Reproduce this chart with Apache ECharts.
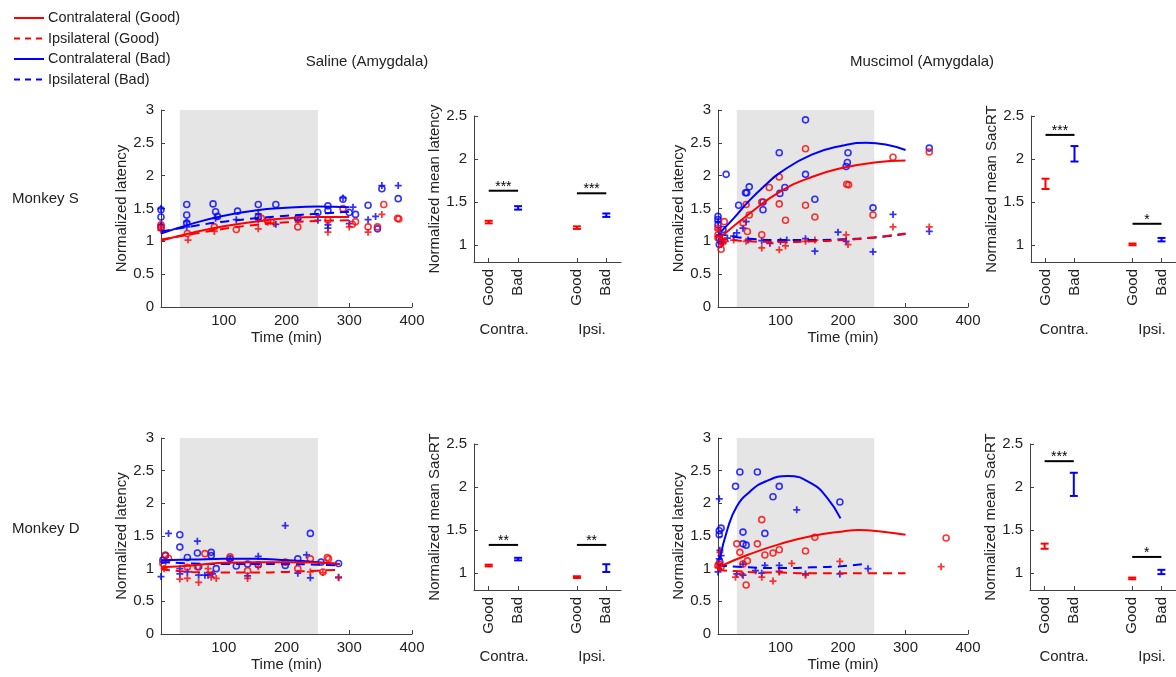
<!DOCTYPE html>
<html>
<head>
<meta charset="UTF-8" />
<title>Amygdala latency</title>
<script src="https://cdn.jsdelivr.net/npm/echarts@6/dist/echarts.min.js"></script>
<style>
  html, body { margin: 0; padding: 0; background: #fff; }
  #chart { width: 1176px; height: 677px; }
</style>
</head>
<body>
<div id="chart"></div>
<script>
// ---- data ----
var shadeRange = [30, 250];
var timeTicks = [100, 200, 300, 400];
var barPos = [1, 2, 4, 5];
var barNames = ["Good", "Bad", "Good", "Bad"];
var barColors = ["#ff0000", "#0000ff", "#ff0000", "#0000ff"];
var sacTicks = [1, 1.5, 2, 2.5];

// Saline, monkey S
var salS_cg_pts = [[0,1.25],[0,1.2],[42,1.12],[85,1.22],[120,1.18],[160,1.35],[170,1.32],[218,1.22],[266,1.32],[290,1.5],[305,1.26],[310,1.3],[330,1.22],[345,1.22],[355,1.56],[377,1.35],[379,1.34]];
var salS_ig_pts = [[0,1.17],[43,1.02],[85,1.15],[155,1.19],[170,1.29],[180,1.27],[266,1.14],[300,1.22],[330,1.14],[352,1.41]];
var salS_cb_pts = [[0,1.48],[0,1.37],[0,1.22],[41,1.56],[41,1.4],[41,1.28],[83,1.57],[87,1.45],[90,1.38],[122,1.46],[155,1.56],[155,1.37],[183,1.56],[218,1.35],[250,1.44],[266,1.54],[266,1.47],[290,1.64],[300,1.44],[310,1.41],[330,1.55],[345,1.19],[352,1.8],[378,1.65]];
var salS_ib_pts = [[0,1.5],[0,1.25],[41,1.22],[41,1.3],[87,1.35],[120,1.33],[155,1.42],[155,1.33],[183,1.26],[218,1.33],[250,1.32],[266,1.2],[266,1.25],[290,1.66],[306,1.52],[300,1.27],[330,1.33],[342,1.38],[352,1.85],[378,1.85]];
var salS_cg_fit = [[0,1.01],[50,1.13],[100,1.23],[150,1.3],[200,1.35],[250,1.37],[300,1.37]];
var salS_ig_fit = [[0,1.03],[50,1.11],[100,1.19],[150,1.25],[200,1.29],[250,1.31],[300,1.32]];
var salS_cb_fit = [[0,1.12],[50,1.27],[100,1.39],[150,1.47],[200,1.51],[250,1.53],[300,1.52]];
var salS_ib_fit = [[0,1.15],[50,1.23],[100,1.3],[150,1.35],[200,1.39],[250,1.42],[300,1.45]];
var salS_mean = [1.265, 1.43, 1.2, 1.345];
var salS_err = [0.015, 0.02, 0.015, 0.02];
var salS_sig = [[1, 2, 1.63, "***"], [4, 5, 1.6, "***"]];

// Muscimol, monkey S
var musS_cg_pts = [[0,1.2],[0,1.1],[0,1.05],[5,0.88],[10,1.3],[40,1.28],[45,1.56],[47,1.15],[50,1.4],[70,1.6],[70,1.1],[82,1.82],[98,1.98],[98,1.57],[108,1.32],[140,2.41],[140,1.55],[155,1.37],[206,1.87],[209,1.86],[248,1.4],[280,2.28],[338,2.36]];
var musS_ig_pts = [[0,1.18],[3,1.08],[5,0.95],[8,0.98],[12,1.0],[25,1.02],[45,1.0],[70,0.9],[83,0.98],[98,0.87],[108,0.93],[140,1.0],[155,1.02],[205,1.1],[208,0.95],[280,1.22],[338,1.22]];
var musS_cb_pts = [[0,1.38],[0,1.33],[0,1.25],[2,1.05],[2,0.95],[5,1.0],[8,1.18],[13,2.02],[33,1.55],[44,1.74],[46,1.74],[50,1.83],[72,1.48],[72,1.6],[98,2.35],[99,1.73],[107,1.82],[140,2.85],[140,2.02],[155,1.64],[205,2.14],[207,2.2],[208,2.35],[248,1.51],[338,2.42]];
var musS_ib_pts = [[0,1.3],[2,1.1],[8,0.98],[15,1.05],[25,1.08],[30,1.13],[40,1.2],[45,1.3],[48,1.02],[70,1.01],[83,0.97],[100,1.0],[110,1.02],[140,1.04],[155,0.85],[192,1.14],[205,1.0],[248,0.84],[280,1.41],[338,1.15]];
var musS_cg_fit = [[5,1.07],[50,1.42],[100,1.76],[150,1.98],[200,2.12],[250,2.2],[300,2.23]];
var musS_ig_fit = [[0,1.05],[50,1.0],[100,0.99],[150,1.0],[200,1.02],[250,1.06],[300,1.12]];
var musS_cb_fit = [[5,1.15],[25,1.35],[50,1.62],[75,1.85],[100,2.05],[150,2.32],[200,2.46],[237,2.5],[270,2.47],[300,2.39]];
var musS_ib_fit = [[0,1.12],[50,1.04],[100,1.02],[150,1.02],[200,1.03],[250,1.06],[300,1.11]];
var musS_mean = [1.71, 2.06, 1.005, 1.06];
var musS_err = [0.06, 0.09, 0.01, 0.02];
var musS_sig = [[1, 2, 2.28, "***"], [4, 5, 1.245, "*"]];

// Saline, monkey D
var salD_cg_pts = [[3,1.08],[7,1.21],[12,1.16],[42,1.02],[58,1.03],[70,1.23],[110,1.18],[138,0.97],[198,1.1],[218,1.0],[238,1.15],[258,0.95],[265,1.17],[267,1.15]];
var salD_ig_pts = [[5,1.0],[30,0.84],[42,0.85],[60,0.79],[75,1.0],[80,0.87],[88,0.85],[138,0.85],[155,1.03],[238,0.95],[258,0.94],[283,0.86]];
var salD_cb_pts = [[3,1.13],[7,1.2],[30,1.52],[30,1.33],[42,1.17],[58,1.24],[60,1.03],[80,1.25],[80,1.2],[88,1.0],[110,1.15],[120,1.04],[138,1.07],[155,1.06],[198,1.05],[218,1.15],[238,1.54],[255,1.1],[283,1.08]];
var salD_ib_pts = [[0,0.88],[12,1.54],[30,1.0],[30,0.92],[42,0.95],[58,1.42],[60,0.9],[70,0.9],[75,0.9],[82,0.92],[110,1.13],[155,1.19],[138,0.89],[198,1.66],[218,0.93],[232,1.21],[238,0.86],[283,0.87]];
var salD_cg_fit = [[0,1.02],[50,1.05],[100,1.09],[150,1.1],[200,1.1],[250,1.09],[285,1.07]];
var salD_ig_fit = [[0,0.99],[50,0.95],[100,0.94],[150,0.94],[200,0.95],[250,0.97],[285,0.98]];
var salD_cb_fit = [[0,1.13],[50,1.14],[100,1.15],[150,1.15],[200,1.13],[250,1.1],[285,1.07]];
var salD_ib_fit = [[0,1.1],[50,1.08],[100,1.07],[150,1.07],[200,1.07],[250,1.06],[285,1.05]];
var salD_mean = [1.085, 1.16, 0.95, 1.055];
var salD_err = [0.01, 0.015, 0.01, 0.045];
var salD_sig = [[1, 2, 1.325, "**"], [4, 5, 1.325, "**"]];

// Muscimol, monkey D
var musD_cg_pts = [[0,1.05],[2,1.07],[5,1.03],[30,1.38],[35,1.25],[40,1.07],[45,0.75],[47,1.12],[63,1.38],[70,1.75],[75,1.21],[88,1.24],[98,1.29],[140,1.27],[155,1.48],[365,1.47]];
var musD_ig_pts = [[0,1.02],[3,1.25],[28,0.87],[38,0.92],[70,0.87],[88,0.81],[98,0.95],[118,1.08],[140,0.9],[195,1.11],[357,1.03]];
var musD_cb_pts = [[2,1.58],[2,1.52],[5,1.62],[3,1.1],[28,2.26],[35,2.48],[40,1.56],[40,1.38],[45,1.36],[63,2.48],[75,1.54],[88,2.1],[98,2.26],[195,2.02]];
var musD_ib_pts = [[2,2.07],[0,0.95],[3,1.28],[5,1.2],[2,1.15],[30,0.92],[40,1.07],[40,0.9],[60,0.97],[70,0.93],[75,1.05],[98,1.05],[98,0.96],[126,1.9],[140,0.92],[195,0.92],[240,1.0]];
var musD_cg_fit = [[0,1.02],[50,1.22],[100,1.38],[150,1.5],[200,1.57],[225,1.59],[260,1.57],[300,1.52]];
var musD_ig_fit = [[0,0.98],[50,0.95],[100,0.94],[150,0.93],[200,0.93],[250,0.93],[300,0.93]];
var musD_cb_fit = [[3,1.15],[15,1.6],[30,1.95],[50,2.17],[75,2.33],[112,2.42],[150,2.3],[175,2.08],[196,1.77]];
var musD_ib_fit = [[0,1.05],[50,1.02],[100,1.01],[150,1.02],[200,1.04],[240,1.08]];
var musD_mean = [1.31, 2.03, 0.935, 1.01];
var musD_err = [0.03, 0.135, 0.01, 0.025];
var musD_sig = [[1, 2, 2.3, "***"], [4, 5, 1.185, "*"]];

// ---- layout / style ----
var FONT = "Liberation Sans, Arial, Helvetica, sans-serif";
var AX = "#404040";
var TXT = "#222";
var RED = "#ff0000";
var BLUE = "#0000ff";
var PLUS = "path://M3,0H5V3H8V5H5V8H3V5H0V3H3Z";

var grids = [
  { left: 161, top: 110, width: 251, height: 197 },
  { left: 474, top: 116, width: 147, height: 146 },
  { left: 718, top: 110, width: 250, height: 197 },
  { left: 1031, top: 116, width: 147, height: 146 },
  { left: 161, top: 438, width: 251, height: 196 },
  { left: 474, top: 444, width: 147, height: 146 },
  { left: 718, top: 438, width: 250, height: 196 },
  { left: 1030, top: 444, width: 147, height: 146 }
];

var xAxes = [], yAxes = [], series = [];

function axisBase(gi) {
  return {
    gridIndex: gi,
    type: "value",
    axisLine: { show: true, onZero: false, lineStyle: { color: AX, width: 1 } },
    axisTick: { show: true, inside: true, length: 4, lineStyle: { color: AX } },
    axisLabel: { color: TXT, fontSize: 15, fontFamily: FONT },
    splitLine: { show: false },
    nameTextStyle: { color: TXT, fontSize: 15, fontFamily: FONT }
  };
}

function timePanel(gi, cg, ig, cb, ib, cgf, igf, cbf, ibf) {
  var xa = axisBase(gi);
  xa.min = 0; xa.max = 400;
  xa.axisTick.customValues = timeTicks;
  xa.axisLabel.customValues = timeTicks;
  xa.axisLabel.margin = 6;
  xa.name = "Time (min)";
  xa.nameLocation = "middle";
  xa.nameGap = 23;
  xAxes.push(xa);
  var ya = axisBase(gi);
  ya.min = 0; ya.max = 3; ya.interval = 0.5;
  ya.axisLabel.margin = 7;
  ya.name = "Normalized latency";
  ya.nameLocation = "middle";
  ya.nameGap = 30;
  yAxes.push(ya);
  var ai = xAxes.length - 1;
  series.push({
    type: "scatter", xAxisIndex: ai, yAxisIndex: ai, data: [], silent: true, z: 0,
    markArea: { silent: true, itemStyle: { color: "#e5e5e5" },
      data: [[{ xAxis: shadeRange[0] }, { xAxis: shadeRange[1] }]] }
  });
  function pts(d, color, sym) {
    var plus = sym === PLUS;
    series.push({
      type: "scatter", xAxisIndex: ai, yAxisIndex: ai, data: d,
      symbol: plus ? PLUS : "circle", symbolSize: plus ? 7 : 6,
      itemStyle: plus ? { color: color } : { color: "rgba(255,255,255,0)", borderColor: color, borderWidth: 1.6 },
      z: 3
    });
  }
  function fit(d, color, dashed) {
    series.push({
      type: "line", xAxisIndex: ai, yAxisIndex: ai, data: d, smooth: true,
      showSymbol: false, symbol: "none",
      lineStyle: { color: color, width: 2, type: dashed ? [9, 6] : "solid" },
      z: 4
    });
  }
  pts(cb, BLUE, "o");
  pts(ib, BLUE, PLUS);
  pts(cg, RED, "o");
  pts(ig, RED, PLUS);
  fit(cbf, BLUE, false);
  fit(ibf, BLUE, true);
  fit(cgf, RED, false);
  fit(igf, RED, true);
}

function meanPanel(gi, mean, err, sig, yname) {
  var xa = axisBase(gi);
  xa.min = 0.5; xa.max = 5.5;
  xa.axisTick.customValues = barPos;
  xa.axisLabel.customValues = barPos;
  xa.axisLabel.rotate = 90;
  xa.axisLabel.margin = 7;
  xa.axisLabel.formatter = function (v) { return barNames[barPos.indexOf(v)]; };
  xAxes.push(xa);
  var ya = axisBase(gi);
  ya.min = 0.8; ya.max = 2.5;
  ya.axisTick.customValues = sacTicks;
  ya.axisLabel.customValues = sacTicks;
  ya.axisLabel.margin = 7;
  ya.name = yname;
  ya.nameLocation = "middle";
  ya.nameGap = 21;
  yAxes.push(ya);
  var ai = xAxes.length - 1;
  var rows = barPos.map(function (p, i) { return [p, mean[i] - err[i], mean[i] + err[i]]; });
  series.push({
    type: "custom", xAxisIndex: ai, yAxisIndex: ai, data: rows,
    encode: { x: 0, y: [1, 2] },
    renderItem: function (params, api) {
      var x = api.value(0);
      var lo = api.coord([x, api.value(1)]);
      var hi = api.coord([x, api.value(2)]);
      var c = barColors[params.dataIndex];
      var st = { stroke: c, lineWidth: 2 };
      var w = 4;
      return { type: "group", children: [
        { type: "line", shape: { x1: lo[0], y1: lo[1], x2: hi[0], y2: hi[1] }, style: st },
        { type: "line", shape: { x1: lo[0] - w, y1: lo[1], x2: lo[0] + w, y2: lo[1] }, style: st },
        { type: "line", shape: { x1: hi[0] - w, y1: hi[1], x2: hi[0] + w, y2: hi[1] }, style: st }
      ] };
    }
  });
  series.push({
    type: "custom", xAxisIndex: ai, yAxisIndex: ai,
    data: sig.map(function (s) { return [s[0], s[1], s[2]]; }),
    encode: { x: [0, 1], y: 2 },
    renderItem: function (params, api) {
      var a = api.coord([api.value(0), api.value(2)]);
      var b = api.coord([api.value(1), api.value(2)]);
      return { type: "group", children: [
        { type: "line", shape: { x1: a[0], y1: a[1], x2: b[0], y2: b[1] }, style: { stroke: "#000", lineWidth: 2 } },
        { type: "text", x: (a[0] + b[0]) / 2, y: a[1] + 3,
          style: { text: sig[params.dataIndex][3], fill: "#000", font: "14px " + FONT, align: "center", verticalAlign: "bottom" } }
      ] };
    }
  });
}

timePanel(0, salS_cg_pts, salS_ig_pts, salS_cb_pts, salS_ib_pts, salS_cg_fit, salS_ig_fit, salS_cb_fit, salS_ib_fit);
meanPanel(1, salS_mean, salS_err, salS_sig, "Normalized mean latency");
timePanel(2, musS_cg_pts, musS_ig_pts, musS_cb_pts, musS_ib_pts, musS_cg_fit, musS_ig_fit, musS_cb_fit, musS_ib_fit);
meanPanel(3, musS_mean, musS_err, musS_sig, "Normalized mean SacRT");
timePanel(4, salD_cg_pts, salD_ig_pts, salD_cb_pts, salD_ib_pts, salD_cg_fit, salD_ig_fit, salD_cb_fit, salD_ib_fit);
meanPanel(5, salD_mean, salD_err, salD_sig, "Normalized mean SacRT");
timePanel(6, musD_cg_pts, musD_ig_pts, musD_cb_pts, musD_ib_pts, musD_cg_fit, musD_ig_fit, musD_cb_fit, musD_ib_fit);
meanPanel(7, musD_mean, musD_err, musD_sig, "Normalized mean SacRT");

// legend, titles, row and group labels
var legendItems = [
  ["Contralateral (Good)", RED, false],
  ["Ipsilateral (Good)", RED, true],
  ["Contralateral (Bad)", BLUE, false],
  ["Ipsilateral (Bad)", BLUE, true]
];
var graphics = [];
legendItems.forEach(function (it, i) {
  var y = 18 + i * 20.5;
  graphics.push({ type: "line", shape: { x1: 14, y1: y, x2: 44, y2: y },
    style: { stroke: it[1], lineWidth: 2, lineDash: it[2] ? [6, 5] : null } });
  graphics.push({ type: "text", x: 48, y: y, style: { text: it[0], fill: TXT, font: "14.5px " + FONT, verticalAlign: "middle" } });
});
function label(text, x, y, align) {
  graphics.push({ type: "text", x: x, y: y, style: { text: text, fill: TXT, font: "15px " + FONT, align: align || "center", verticalAlign: "middle" } });
}
label("Saline (Amygdala)", 367, 62);
label("Muscimol (Amygdala)", 922, 62);
label("Monkey S", 12, 199, "left");
label("Monkey D", 12, 529, "left");
label("Contra.", 504, 330);
label("Ipsi.", 592, 330);
label("Contra.", 1064, 330);
label("Ipsi.", 1152, 330);
label("Contra.", 504, 657);
label("Ipsi.", 592, 657);
label("Contra.", 1064, 657);
label("Ipsi.", 1152, 657);

var chart = echarts.init(document.getElementById("chart"));
chart.setOption({
  animation: false,
  backgroundColor: "#fff",
  textStyle: { fontFamily: FONT },
  grid: grids,
  xAxis: xAxes,
  yAxis: yAxes,
  series: series,
  graphic: graphics
});
</script>
</body>
</html>
